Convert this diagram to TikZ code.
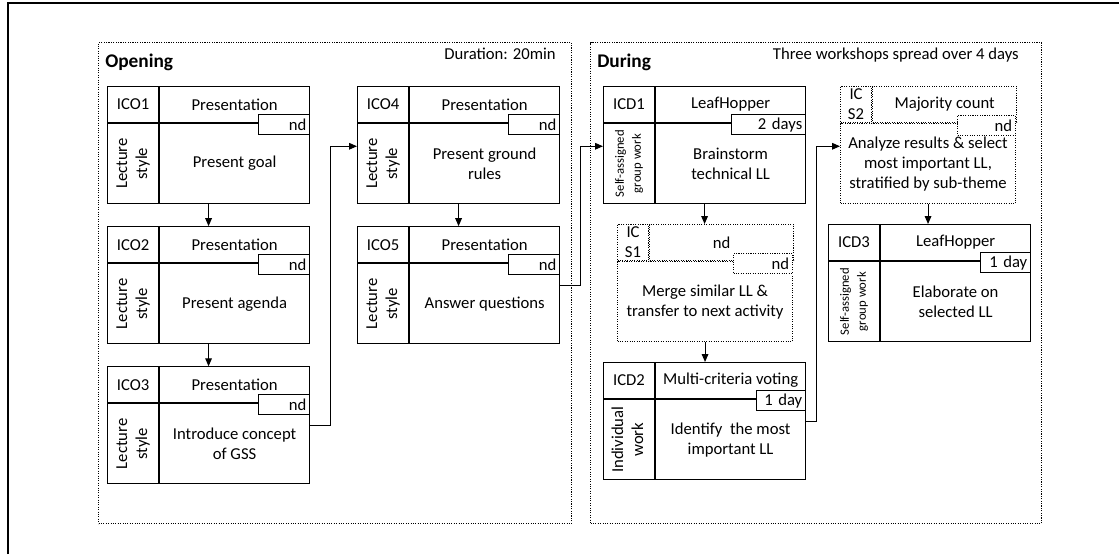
\documentclass[tikz,border=0pt]{standalone}
\usepackage{fontspec}
\setmainfont{Carlito}
\usepackage{tikz}
\usetikzlibrary{positioning,calc,arrows.meta}
\newcommand{\sidelabel}[1]{\rotatebox{90}{\begin{tabular}{@{}c@{}}#1\end{tabular}}}
\newcommand{\smallside}[1]{{\fontsize{9.5}{12.75}\selectfont\sidelabel{#1}}}
\tikzset{
    cell/.style={draw, line width=0.8pt, inner sep=0pt, align=center, font=\fontsize{12.5}{15}\selectfont},
    idcell/.style={cell, minimum width=38.25pt, minimum height=27pt},
    toolcell/.style={cell, minimum width=112.5pt, minimum height=27pt},
    sidecell/.style={cell, minimum width=38.25pt, minimum height=60pt},
    maincell/.style={cell, minimum width=112.5pt, minimum height=60pt},
    ndcell/.style={cell, fill=white, minimum height=15pt, inner xsep=2.5pt, text width=#1, align=right},
    dotbox/.style={densely dotted},
    phase/.style={draw, densely dotted, line width=0.8pt, minimum height=360.75pt, inner sep=0pt},
    phasetitle/.style={inner sep=0pt, font=\fontsize{14.5}{17}\selectfont\bfseries},
    phasenote/.style={inner sep=0pt, font=\fontsize{12.5}{15}\selectfont},
    conn/.style={line width=0.8pt, -{Triangle[length=6pt,width=5pt]}}
}
\begin{document}
\begin{tikzpicture}[x=0.75pt, y=-0.75pt]
    \useasboundingbox (0,0) rectangle (1119,554);
    \draw[line width=1pt] (8,554) -- (8,3) -- (1119,3);

    \node[phase, minimum width=354.75pt, anchor=north west] (opening) at (98,42) {};
    \node[phase, minimum width=338.25pt, anchor=north west] (during) at (590,42) {};
    \node[phasetitle, anchor=base west] (openingtitle) at (105,67) {Opening};
    \node[phasenote, anchor=base east] (openingnote) at (556,59) {Duration: 20min};
    \node[phasetitle, anchor=base west] (duringtitle) at (597,67) {During};
    \node[phasenote, anchor=base east] (duringnote) at (1019,59) {Three workshops spread over 4 days};

    \node[idcell, anchor=north west] (ico1) at (107,86) {ICO1};
    \node[toolcell, right=0mm of ico1] (ico1t) {Presentation};
    \node[sidecell, below=0mm of ico1] (ico1s) {\sidelabel{Lecture\\style}};
    \node[maincell, right=0mm of ico1s] (ico1m) {Present goal};
    \node[ndcell=33.25pt, anchor=north east] (ico1n) at ([yshift=6.75pt]ico1m.north east) {nd};

    \node[idcell, below=16.5pt of ico1s] (ico2) {ICO2};
    \node[toolcell, right=0mm of ico2] (ico2t) {Presentation};
    \node[sidecell, below=0mm of ico2] (ico2s) {\sidelabel{Lecture\\style}};
    \node[maincell, right=0mm of ico2s] (ico2m) {Present agenda};
    \node[ndcell=33.25pt, anchor=north east] (ico2n) at ([yshift=6.75pt]ico2m.north east) {nd};

    \node[idcell, below=16.5pt of ico2s] (ico3) {ICO3};
    \node[toolcell, right=0mm of ico3] (ico3t) {Presentation};
    \node[sidecell, below=0mm of ico3] (ico3s) {\sidelabel{Lecture\\style}};
    \node[maincell, right=0mm of ico3s] (ico3m) {Introduce concept\\of GSS};
    \node[ndcell=33.25pt, anchor=north east] (ico3n) at ([yshift=6.75pt]ico3m.north east) {nd};

    \node[idcell, anchor=north west] (ico4) at (357,86) {ICO4};
    \node[toolcell, right=0mm of ico4] (ico4t) {Presentation};
    \node[sidecell, below=0mm of ico4] (ico4s) {\sidelabel{Lecture\\style}};
    \node[maincell, right=0mm of ico4s] (ico4m) {Present ground\\rules};
    \node[ndcell=33.25pt, anchor=north east] (ico4n) at ([yshift=6.75pt]ico4m.north east) {nd};

    \node[idcell, below=16.5pt of ico4s] (ico5) {ICO5};
    \node[toolcell, right=0mm of ico5] (ico5t) {Presentation};
    \node[sidecell, below=0mm of ico5] (ico5s) {\sidelabel{Lecture\\style}};
    \node[maincell, right=0mm of ico5s] (ico5m) {Answer questions};
    \node[ndcell=33.25pt, anchor=north east] (ico5n) at ([yshift=6.75pt]ico5m.north east) {nd};

    \node[idcell, anchor=north west] (icd1) at (603,86) {ICD1};
    \node[toolcell, right=0mm of icd1] (icd1t) {LeafHopper};
    \node[sidecell, below=0mm of icd1] (icd1s) {\smallside{Self-assigned\\group work}};
    \node[maincell, right=0mm of icd1s] (icd1m) {Brainstorm\\technical LL};
    \node[ndcell=50.5pt, anchor=north east] (icd1n) at ([yshift=6.75pt]icd1m.north east) {2 days};

    \node[idcell, dotbox, minimum width=23.25pt, anchor=north west] (ics1) at (617,224) {IC\\S1};
    \node[toolcell, dotbox, minimum width=108pt, right=0mm of ics1] (ics1t) {nd};
    \node[maincell, dotbox, minimum width=131.25pt, anchor=north west] (ics1m) at (ics1.south west) {Merge similar LL \&\\transfer to next activity};
    \node[ndcell=39.25pt, dotbox, anchor=north east] (ics1n) at ([yshift=6pt]ics1m.north east) {nd};

    \node[idcell, anchor=north west] (icd2) at (603,362) {ICD2};
    \node[toolcell, right=0mm of icd2] (icd2t) {Multi-criteria voting};
    \node[sidecell, below=0mm of icd2] (icd2s) {\sidelabel{Individual\\work}};
    \node[maincell, right=0mm of icd2s] (icd2m) {Identify~ the most\\important LL};
    \node[ndcell=31.75pt, anchor=north east] (icd2n) at ([yshift=6.75pt]icd2m.north east) {1 day};

    \node[idcell, dotbox, minimum width=23.25pt, anchor=north west] (ics2) at (840,86) {IC\\S2};
    \node[toolcell, dotbox, minimum width=108pt, right=0mm of ics2] (ics2t) {Majority count};
    \node[maincell, dotbox, minimum width=131.25pt, anchor=north west] (ics2m) at (ics2.south west) {Analyze results \& select\\most important LL,\\stratified by sub-theme};
    \node[ndcell=38.5pt, dotbox, anchor=north east] (ics2n) at ([yshift=6pt]ics2m.north east) {nd};

    \node[idcell, anchor=north west] (icd3) at (828,224) {ICD3};
    \node[toolcell, right=0mm of icd3] (icd3t) {LeafHopper};
    \node[sidecell, below=0mm of icd3] (icd3s) {\smallside{Self-assigned\\group work}};
    \node[maincell, right=0mm of icd3s] (icd3m) {Elaborate on\\selected LL};
    \node[ndcell=32.5pt, anchor=north east] (icd3n) at ([yshift=6.75pt]icd3m.north east) {1 day};

    \draw[conn] ($(ico1s.south west)!.5!(ico1m.south east)$) -- ($(ico2.north west)!.5!(ico2t.north east)$);
    \draw[conn] ($(ico2s.south west)!.5!(ico2m.south east)$) -- ($(ico3.north west)!.5!(ico3t.north east)$);
    \draw[conn] ([yshift=13.5pt]ico3m.east) -- ++(20,0) |- ([yshift=13pt]ico4s.west);
    \draw[conn] ($(ico4s.south west)!.5!(ico4m.south east)$) -- ($(ico5.north west)!.5!(ico5t.north east)$);
    \draw[conn] ([yshift=13.5pt]ico5m.east) -- ++(20,0) |- ([yshift=13pt]icd1s.west);
    \draw[conn] ($(icd1s.south west)!.5!(icd1m.south east)$) coordinate (icd1b) -- (icd1b |- ics1t.north);
    \draw[conn] (ics1m.south) -- (ics1m.south |- icd2.north);
    \draw[conn] ([yshift=13.5pt]icd2m.east) -- ++(10,0) |- ([yshift=13pt]ics2m.west);
    \draw[conn] (ics2m.south) -- (ics2m.south |- icd3.north);
\end{tikzpicture}
\end{document}
